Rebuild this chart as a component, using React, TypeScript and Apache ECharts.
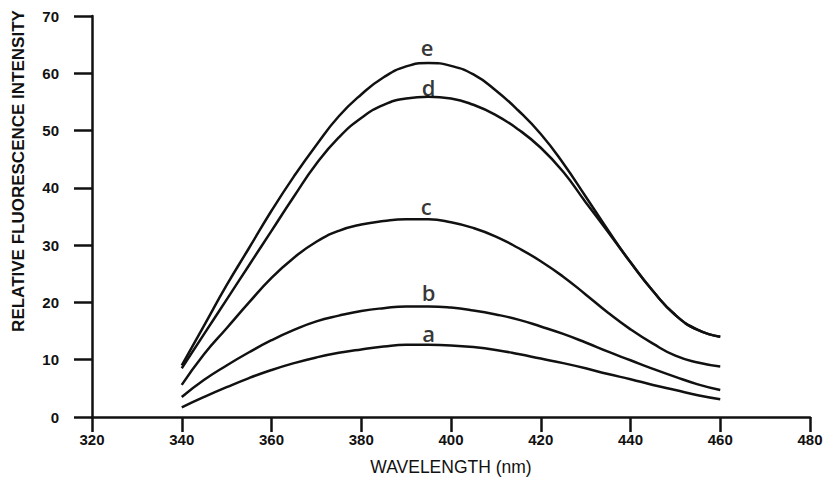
import React, { useEffect, useRef } from "react";
import * as echarts from "echarts";

const wavelengths = [
  340, 345, 350, 355, 360, 365, 370, 375, 380, 385, 390, 395, 400, 405, 410,
  415, 420, 425, 430, 435, 440, 445, 450, 455, 460,
];

const curveA = [
  1.7, 3.5, 5.2, 6.8, 8.2, 9.4, 10.4, 11.2, 11.8, 12.3, 12.6, 12.6, 12.5, 12.2,
  11.7, 11.0, 10.2, 9.4, 8.5, 7.5, 6.6, 5.6, 4.7, 3.8, 3.1,
];
const curveB = [
  3.5, 6.5, 9.0, 11.3, 13.4, 15.2, 16.7, 17.7, 18.5, 19.0, 19.3, 19.3, 19.1,
  18.6, 17.9, 17.0, 15.8, 14.5, 13.0, 11.4, 9.9, 8.4, 7.0, 5.7, 4.7,
];
const curveC = [
  5.6, 11.0, 15.5, 20.0, 24.3, 27.8, 30.6, 32.5, 33.6, 34.2, 34.5, 34.5, 34.0,
  33.0, 31.5, 29.5, 27.2, 24.5, 21.4, 18.2, 15.3, 12.8, 10.7, 9.5, 8.8,
];
const curveD = [
  8.5, 14.5, 20.5, 26.5, 32.5, 38.5, 44.2, 48.8, 52.2, 54.5, 55.6, 55.9, 55.6,
  54.5, 52.7, 50.2, 47.0, 42.8, 37.5, 32.3, 27.0, 22.0, 17.8, 15.2, 14.0,
];
const curveE = [
  9.0, 16.0, 23.0, 29.5, 36.0, 42.0, 47.5, 52.5, 56.3, 59.3, 61.2, 61.8, 61.3,
  59.8, 57.0, 53.5, 49.4, 44.3, 38.5, 32.6, 27.0, 22.0, 17.8, 15.2, 14.0,
];

const curveNames = ["a", "b", "c", "d", "e"];
const curveLabelX = [395, 395, 394.5, 395, 394.7];
const curveLabelY = [14.6, 21.8, 36.8, 57.6, 64.6];

const xTicks = [320, 340, 360, 380, 400, 420, 440, 460, 480];
const yTicks = [0, 10, 20, 30, 40, 50, 60, 70];

const INK = "#111111";

export default function App() {
  const ref = useRef<HTMLDivElement>(null);

  useEffect(() => {
    if (!ref.current) return;
    const chart = echarts.init(ref.current, undefined, { renderer: "svg" });
    const all = [curveA, curveB, curveC, curveD, curveE];
    const lineSeries = all.map((vals, i) => ({
      name: curveNames[i],
      type: "line",
      smooth: 0.5,
      showSymbol: false,
      symbol: "none",
      lineStyle: { color: INK, width: 2.5 },
      data: wavelengths.map((w, j) => [w, vals[j]]),
      z: 3,
    }));
    const labelSeries = {
      type: "scatter",
      symbolSize: 0,
      itemStyle: { color: INK },
      data: curveNames.map((n, i) => [curveLabelX[i], curveLabelY[i], n]),
      label: {
        show: true,
        position: "inside",
        formatter: (p: any) => p.data[2],
        color: "#000000",
        textBorderWidth: 0,
        fontSize: 22,
        fontWeight: 600,
        fontFamily: "Open Sans",
      },
      z: 4,
    };
    chart.setOption({
      animation: false,
      backgroundColor: "#ffffff",
      grid: { left: 92, right: 16, top: 16, bottom: 80, containLabel: false },
      xAxis: {
        type: "value",
        min: xTicks[0],
        max: xTicks[xTicks.length - 1],
        interval: 20,
        name: "WAVELENGTH (nm)",
        nameLocation: "middle",
        nameGap: 41,
        nameTextStyle: {
          color: INK,
          fontSize: 17.5,
          fontFamily: "Liberation Sans",
        },
        axisLine: { show: true, lineStyle: { color: INK, width: 2.5 } },
        axisTick: { show: true, length: 15, lineStyle: { color: INK, width: 2.5 } },
        axisLabel: {
          margin: 15,
          color: INK,
          fontSize: 15,
          fontWeight: "bold",
          fontFamily: "Liberation Sans",
        },
        splitLine: { show: false },
      },
      yAxis: {
        type: "value",
        min: yTicks[0],
        max: yTicks[yTicks.length - 1],
        interval: 10,
        axisLine: { show: true, lineStyle: { color: INK, width: 2.5 } },
        axisTick: { show: true, length: 18, lineStyle: { color: INK, width: 2.5 } },
        axisLabel: {
          margin: 33,
          color: INK,
          fontSize: 15,
          fontWeight: "bold",
          fontFamily: "Liberation Sans",
        },
        splitLine: { show: false },
      },
      graphic: [
        {
          type: "text",
          x: 18,
          y: 171,
          rotation: Math.PI / 2,
          style: {
            text: "RELATIVE FLUORESCENCE INTENSITY",
            fill: INK,
            fontSize: 17,
            fontWeight: "bold",
            fontFamily: "Liberation Sans",
            align: "center",
            verticalAlign: "middle",
          },
        },
      ],
      series: [...lineSeries, labelSeries],
    });
    return () => chart.dispose();
  }, []);

  return (
    <div
      ref={ref}
      style={{ position: "fixed", left: 0, top: 0, width: 826, height: 497 }}
    />
  );
}
